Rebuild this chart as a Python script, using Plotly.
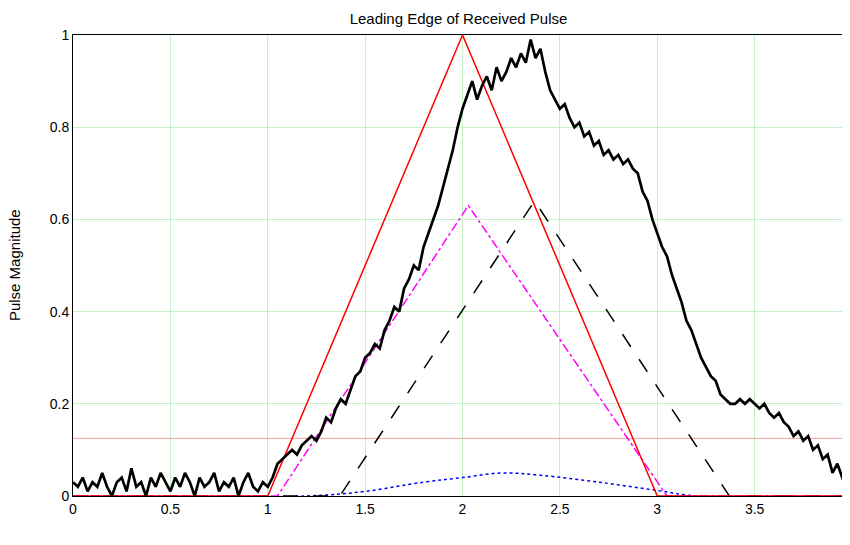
import numpy as np
import plotly.graph_objs as go

#-------------------------------------------
# data
#-------------------------------------------
t_received = np.linspace(0, 4, 161)
received = [
    0.03, 0.02, 0.04, 0.01, 0.03, 0.02, 0.05, 0.02, 0.00, 0.03, 0.04, 0.01, 0.06, 0.02,
    0.03, 0.00, 0.04, 0.02, 0.05, 0.03, 0.01, 0.04, 0.02, 0.05, 0.03, 0.00, 0.04, 0.02,
    0.03, 0.05, 0.01, 0.03, 0.02, 0.04, 0.00, 0.03, 0.05, 0.02, 0.01, 0.03, 0.02,
    0.04, 0.07, 0.08, 0.09, 0.10, 0.09, 0.11, 0.12, 0.13, 0.12, 0.14, 0.17, 0.16, 0.19,
    0.21, 0.20, 0.23, 0.26, 0.27, 0.30,
    0.31, 0.33, 0.32, 0.36, 0.38, 0.41, 0.40, 0.45, 0.47, 0.50, 0.49, 0.54, 0.57, 0.60,
    0.63, 0.67, 0.71, 0.75, 0.80, 0.84,
    0.87, 0.90, 0.86, 0.89, 0.91, 0.88, 0.93, 0.90, 0.92, 0.95, 0.93, 0.96, 0.94, 0.99,
    0.95, 0.97, 0.92, 0.88, 0.86, 0.84,
    0.85, 0.82, 0.80, 0.81, 0.78, 0.79, 0.76, 0.77, 0.74, 0.75, 0.73, 0.74, 0.72, 0.73,
    0.71, 0.70, 0.66, 0.64, 0.60, 0.57,
    0.54, 0.52, 0.48, 0.45, 0.42, 0.38, 0.36, 0.33, 0.30, 0.28, 0.26, 0.25, 0.22, 0.21,
    0.20, 0.20, 0.21, 0.20, 0.21, 0.20,
    0.19, 0.20, 0.18, 0.17, 0.18, 0.16, 0.15, 0.13, 0.14, 0.12, 0.13, 0.10, 0.11, 0.08,
    0.09, 0.05, 0.07, 0.04, 0.05, 0.02,
]

t_tx = [0, 1, 2, 3, 4]
tx = [0, 0, 1, 0, 0]

t_path1 = [0, 1.05, 2.03, 3.05, 4]
path1 = [0, 0, 0.63, 0, 0]

t_path2 = [0, 1.37, 2.37, 3.37, 4]
path2 = [0, 0, 0.64, 0, 0]

t_path3 = [0, 1.2, 1.5, 1.8, 2.0, 2.2, 2.4, 2.7, 3.0, 3.2, 4]
path3 = [0, 0, 0.01, 0.03, 0.04, 0.05, 0.045, 0.03, 0.012, 0, 0]

threshold = 0.125

#-------------------------------------------
fig = go.Figure()
fig.add_trace(go.Scatter(x=[0, 4], y=[threshold, threshold], mode='lines',
                         line=dict(color='#f4a0a0', width=1)))
fig.add_trace(go.Scatter(x=t_path3, y=path3, mode='lines',
                         line=dict(color='blue', width=1.5, dash='dot', shape='spline')))
fig.add_trace(go.Scatter(x=t_path2, y=path2, mode='lines',
                         line=dict(color='black', width=1.5, dash='longdash')))
fig.add_trace(go.Scatter(x=t_path1, y=path1, mode='lines',
                         line=dict(color='magenta', width=1.5, dash='dashdot')))
fig.add_trace(go.Scatter(x=t_tx, y=tx, mode='lines',
                         line=dict(color='red', width=1.5)))
fig.add_trace(go.Scatter(x=t_received, y=received, mode='lines',
                         line=dict(color='black', width=2.7)))

axis = dict(showline=True, linecolor='black', linewidth=1, mirror=True,
            gridcolor='#c8f0c8', zeroline=False, ticks='', automargin=False,
            tickfont=dict(size=14, color='black'))
fig.update_layout(
    width=850, height=545, showlegend=False,
    plot_bgcolor='white', paper_bgcolor='white',
    font=dict(family='Liberation Sans, Arial', size=14, color='black'),
    margin=dict(l=65, r=6, t=27, b=57, autoexpand=False),
    title=dict(text='Leading Edge of Received Pulse', x=0.53, xanchor='center',
               y=0.99, yanchor='top', font=dict(size=15)),
    xaxis=dict(axis, range=[0, 4], dtick=0.5),
    yaxis=dict(axis, range=[0, 1], dtick=0.2),
    annotations=[
        dict(text='Normalized Time', xref='paper', yref='paper', x=0.5, y=-0.095,
             xanchor='center', yanchor='top', showarrow=False, font=dict(size=15)),
        dict(text='Pulse Magnitude', xref='paper', yref='paper', x=-0.075, y=0.5,
             textangle=-90, xanchor='center', yanchor='middle', showarrow=False,
             font=dict(size=15)),
    ],
)

fig.write_html("out.html")
